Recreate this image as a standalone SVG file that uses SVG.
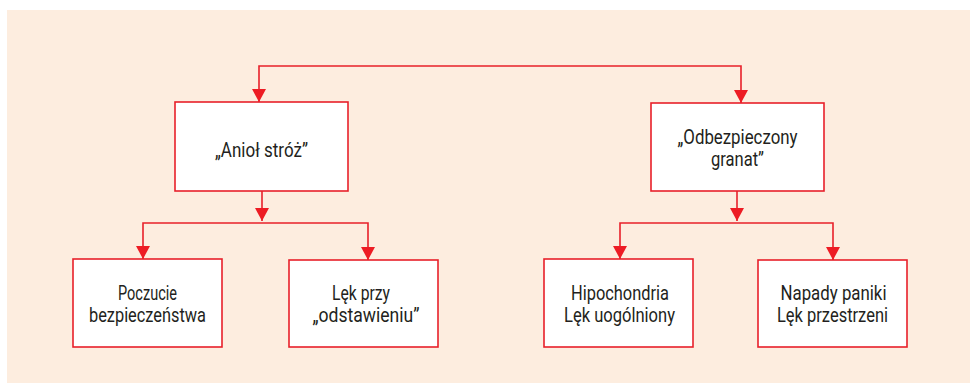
<svg xmlns="http://www.w3.org/2000/svg" width="970" height="383" viewBox="0 0 970 383">
<style>
.box{fill:#ffffff;stroke:#e8202a;stroke-width:1.6}
.con{fill:none;stroke:#e8202a;stroke-width:1.6}
text{font-family:Roboto,"DejaVu Sans Condensed",sans-serif;font-size:20.5px;fill:#231f20;text-anchor:middle}
</style>
<defs>
<marker id="arr" markerUnits="userSpaceOnUse" markerWidth="13" markerHeight="14" viewBox="0 0 13 14" refX="13" refY="7" orient="auto">
<path d="M0,0 L13,7 L0,14 z" fill="#ed1c24"/>
</marker>
</defs>
<rect x="7" y="10" width="963" height="373" fill="#fdeddf"/>
<g id="connectors">
<path class="con" d="M500,66 H259 V102" marker-end="url(#arr)"/>
<path class="con" d="M500,66 H741 V103" marker-end="url(#arr)"/>
<path class="con" d="M262,191 V221" marker-end="url(#arr)"/>
<path class="con" d="M262,223 H143 V259" marker-end="url(#arr)"/>
<path class="con" d="M262,223 H368 V260" marker-end="url(#arr)"/>
<path class="con" d="M737,191 V221" marker-end="url(#arr)"/>
<path class="con" d="M737,223 H620 V259" marker-end="url(#arr)"/>
<path class="con" d="M737,223 H833 V260" marker-end="url(#arr)"/>
</g>
<g id="aniol">
<rect class="box" x="175" y="102" width="173" height="89"/>
<text x="261.5" y="157" textLength="93" lengthAdjust="spacingAndGlyphs">„Anioł stróż”</text>
</g>
<g id="granat">
<rect class="box" x="651" y="103" width="173" height="88"/>
<text x="737.5" y="144" textLength="120" lengthAdjust="spacingAndGlyphs">„Odbezpieczony</text>
<text x="737.5" y="166" textLength="53" lengthAdjust="spacingAndGlyphs">granat”</text>
</g>
<g id="poczucie">
<rect class="box" x="73" y="259" width="149" height="88"/>
<text x="147.5" y="300" textLength="59" lengthAdjust="spacingAndGlyphs">Poczucie</text>
<text x="147.5" y="322" textLength="117" lengthAdjust="spacingAndGlyphs">bezpieczeństwa</text>
</g>
<g id="lek">
<rect class="box" x="289" y="260" width="149" height="87"/>
<text x="361" y="300" textLength="58" lengthAdjust="spacingAndGlyphs">Lęk przy</text>
<text x="366" y="322" textLength="107" lengthAdjust="spacingAndGlyphs">„odstawieniu”</text>
</g>
<g id="hipochondria">
<rect class="box" x="544" y="259" width="149" height="88"/>
<text x="620" y="300" textLength="98" lengthAdjust="spacingAndGlyphs">Hipochondria</text>
<text x="619.5" y="322" textLength="111" lengthAdjust="spacingAndGlyphs">Lęk uogólniony</text>
</g>
<g id="napady">
<rect class="box" x="758" y="260" width="149" height="87"/>
<text x="833.5" y="300" textLength="106" lengthAdjust="spacingAndGlyphs">Napady paniki</text>
<text x="832.5" y="322" textLength="111" lengthAdjust="spacingAndGlyphs">Lęk przestrzeni</text>
</g>
</svg>
